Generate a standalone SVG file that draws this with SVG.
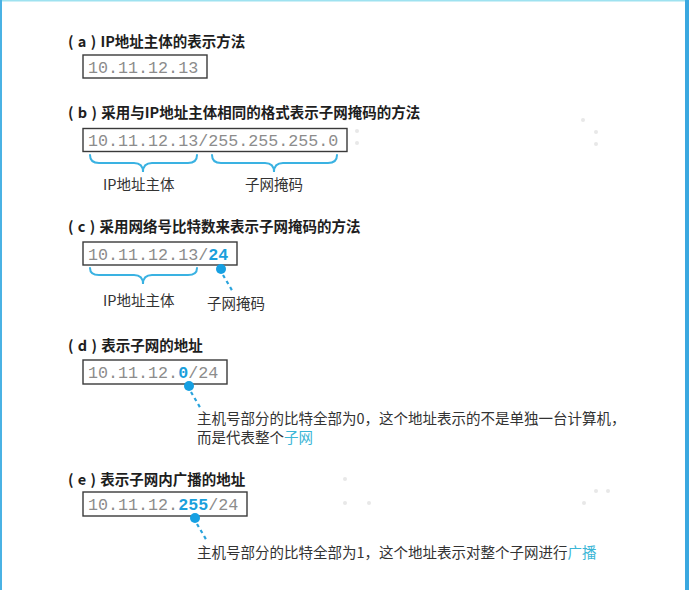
<svg xmlns="http://www.w3.org/2000/svg" width="689" height="590" viewBox="0 0 689 590">
<style>
.title{font-family:"Noto Sans CJK SC","Noto Sans",sans-serif;font-weight:700;font-size:14.5px;fill:#1e1e1e}
.pre{letter-spacing:0.5px}
.body{font-family:"Noto Sans CJK SC",sans-serif;font-size:14.5px;fill:#333}
.mono{font-family:"Liberation Mono",monospace;font-size:16.7px;fill:#8c8c8c}
.hl{fill:#1a9fdc;font-weight:700}
.cy{fill:#3bb6d6}
.box{fill:none;stroke:#3a3a3a;stroke-width:1.4}
.brace{fill:none;stroke:#3ab2e2;stroke-width:2;stroke-linecap:round}
.dash{stroke:#2aa3dc;stroke-width:2.2;stroke-dasharray:3.5 3.5}
.dot{fill:#16a0e2}
.speck{fill:#e8e8e8}
</style>
<rect x="0" y="0" width="689" height="590" fill="#ffffff"/>
<g id="frame">
<rect x="0" y="0" width="689" height="1.5" fill="#9ee2f0"/>
<rect x="0" y="0" width="2" height="590" fill="#4ab2e4"/>
<rect x="685" y="0" width="4" height="590" fill="#3aa8e0"/>
</g>
<g id="specks">
<circle class="speck" cx="345" cy="119" r="2"/>
<circle class="speck" cx="357" cy="131" r="2"/>
<circle class="speck" cx="357" cy="143" r="2"/>
<circle class="speck" cx="583" cy="120" r="2"/>
<circle class="speck" cx="596" cy="132" r="2"/>
<circle class="speck" cx="596" cy="144" r="2"/>
<circle class="speck" cx="345" cy="479" r="2"/>
<circle class="speck" cx="345" cy="503" r="2"/>
<circle class="speck" cx="369" cy="503" r="2"/>
<circle class="speck" cx="596" cy="491" r="2"/>
<circle class="speck" cx="608" cy="491" r="2"/>
<circle class="speck" cx="584" cy="503" r="2"/>
</g>
<g id="section-a">
<text class="title" x="68" y="47"><tspan class="pre">( a ) </tspan>IP地址主体的表示方法</text>
<rect class="box" x="83" y="55" width="124" height="23"/>
<text class="mono" x="88" y="72.5">10.11.12.13</text>
</g>
<g id="section-b">
<text class="title" x="68" y="118"><tspan class="pre">( b ) </tspan>采用与IP地址主体相同的格式表示子网掩码的方法</text>
<rect class="box" x="83" y="128.5" width="264" height="23"/>
<text class="mono" x="88" y="146">10.11.12.13/255.255.255.0</text>
<path class="brace" d="M90,155 Q90,163 99,163 L134,163 Q143,163 143,172 Q143,163 152,163 L188,163 Q197,163 197,155"/>
<path class="brace" d="M212,155 Q212,163 221,163 L265,163 Q274,163 274,172 Q274,163 283,163 L328,163 Q337,163 337,155"/>
<text class="body" x="103" y="190">IP地址主体</text>
<text class="body" x="245" y="190">子网掩码</text>
</g>
<g id="section-c">
<text class="title" x="68" y="232"><tspan class="pre">( c ) </tspan>采用网络号比特数来表示子网掩码的方法</text>
<rect class="box" x="83" y="242" width="154" height="23"/>
<text class="mono" x="88" y="259.5">10.11.12.13/<tspan class="hl">24</tspan></text>
<path class="brace" d="M90,268 Q90,275 99,275 L134,275 Q143,275 143,284 Q143,275 152,275 L188,275 Q197,275 197,268"/>
<text class="body" x="103" y="306">IP地址主体</text>
<text class="body" x="207" y="309">子网掩码</text>
</g>
<g id="section-d">
<text class="title" x="68" y="351"><tspan class="pre">( d ) </tspan>表示子网的地址</text>
<rect class="box" x="83" y="360" width="144" height="24"/>
<text class="mono" x="88" y="378">10.11.12.<tspan class="hl">0</tspan>/24</text>
<text class="body" x="197" y="424">主机号部分的比特全部为0，这个地址表示的不是单独一台计算机，</text>
<text class="body" x="197" y="443">而是代表整个<tspan class="cy">子网</tspan></text>
</g>
<g id="section-e">
<text class="title" x="68" y="485"><tspan class="pre">( e ) </tspan>表示子网内广播的地址</text>
<rect class="box" x="83" y="492" width="164" height="24"/>
<text class="mono" x="88" y="510">10.11.12.<tspan class="hl">255</tspan>/24</text>
<text class="body" x="197" y="558">主机号部分的比特全部为1，这个地址表示对整个子网进行<tspan class="cy">广播</tspan></text>
</g>
<g id="connectors">
<circle class="dot" cx="221" cy="269" r="5"/>
<line class="dash" x1="223" y1="275" x2="233" y2="292"/>
<circle class="dot" cx="189" cy="386" r="5"/>
<line class="dash" x1="191" y1="392" x2="201" y2="409"/>
<circle class="dot" cx="195" cy="518" r="5"/>
<line class="dash" x1="197" y1="524" x2="207" y2="541"/>
</g>
</svg>
